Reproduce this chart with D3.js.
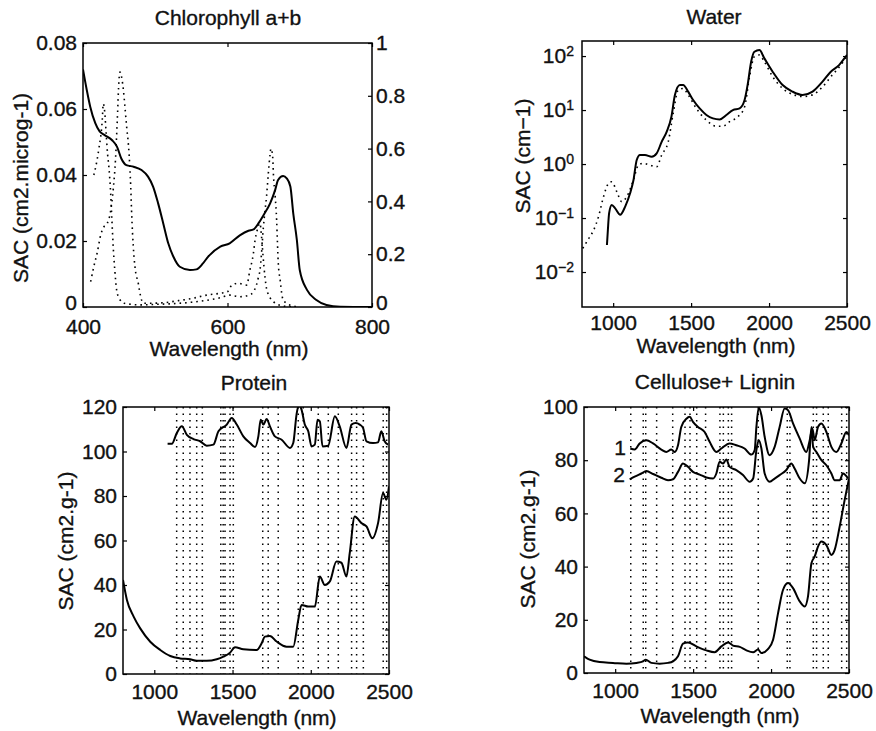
<!DOCTYPE html>
<meta charset="utf-8">
<style>
body { margin: 0; background: #fff; }
svg text { font-family: "Liberation Sans", Arial, sans-serif; fill: #111; stroke: #111; stroke-width: 0.35px; }
.axis text { font-size: 21px; }
.axis path { display: none; }
.axis line { stroke: #000; stroke-width: 1.2px; }
.frame { fill: none; stroke: #000; stroke-width: 1.5px; }
.solid { fill: none; stroke: #000; stroke-width: 2px; stroke-linejoin: round; }
.dots { fill: none; stroke: #000; stroke-width: 1.6px; stroke-dasharray: 1.6 4; }
.vline { stroke: #000; stroke-width: 1.5px; stroke-dasharray: 1.5 5; }
.title, .xlabel, .ylabel { font-size: 21px; text-anchor: middle; }
</style>
<svg width="876" height="731"></svg>

<script src="https://d3js.org/d3.v7.min.js"></script>
<script>

// ---- Chlorophyll a+b (left axis SAC, dotted curves on right axis 0-1)
var chlWl  = [400, 405, 410, 417, 423, 430, 440, 447, 453, 460, 470, 481, 490, 497, 504, 511, 518, 525, 534, 548, 557, 566, 573, 590, 603, 617, 629, 636, 643, 650, 659, 666, 670, 677, 682, 687, 691, 696, 700, 710, 723, 737, 756, 800];
var chlSac = [0.0720, 0.0660, 0.0607, 0.0557, 0.0532, 0.0521, 0.0506, 0.0486, 0.0450, 0.0430, 0.0425, 0.0415, 0.0395, 0.0365, 0.0314, 0.0254, 0.0193, 0.0153, 0.0122, 0.0112, 0.0114, 0.0132, 0.0152, 0.0183, 0.0193, 0.0217, 0.0231, 0.0235, 0.0254, 0.0279, 0.0314, 0.0355, 0.0385, 0.0397, 0.0390, 0.0365, 0.0284, 0.0203, 0.0112, 0.0052, 0.0021, 0.0006, 0.0001, 0];

var chlAWl = [415, 419, 422, 426.7, 428, 430, 432, 434, 436, 438.3, 440, 442, 444, 446.6, 450, 457, 480, 500, 520, 550, 570, 590, 603.5, 617, 630, 636, 640, 643, 645, 647, 649.6, 652, 654, 656.5, 659, 660, 661.5, 662.5, 663.5, 666, 668, 669, 670.3, 673, 675, 677, 686, 700];
var chlA   = [0.50, 0.55, 0.60, 0.71, 0.77, 0.74, 0.66, 0.58, 0.525, 0.43, 0.33, 0.22, 0.14, 0.064, 0.033, 0.014, 0.008, 0.010, 0.012, 0.018, 0.025, 0.035, 0.045, 0.039, 0.045, 0.058, 0.083, 0.115, 0.14, 0.20, 0.30, 0.367, 0.418, 0.506, 0.58, 0.60, 0.59, 0.57, 0.506, 0.418, 0.33, 0.254, 0.165, 0.10, 0.052, 0.027, 0.008, 0];

var chlBWl = [410.6, 415, 420, 424.5, 429, 433.6, 438, 442, 445, 447.5, 449.8, 451.2, 453.5, 456, 458, 460.5, 463, 465, 466, 467.4, 469.6, 472, 476.5, 479, 483.5, 489, 511, 532, 552, 571, 590, 600, 606, 615, 626.5, 631, 635.7, 638, 641, 645, 647, 649, 652, 654, 657, 661, 666, 675, 690];
var chlB   = [0.096, 0.153, 0.21, 0.273, 0.304, 0.317, 0.36, 0.45, 0.56, 0.71, 0.86, 0.89, 0.87, 0.82, 0.76, 0.68, 0.61, 0.52, 0.46, 0.35, 0.23, 0.15, 0.09, 0.05, 0.014, 0.014, 0.016, 0.024, 0.033, 0.045, 0.052, 0.058, 0.083, 0.09, 0.083, 0.14, 0.20, 0.25, 0.29, 0.317, 0.27, 0.20, 0.11, 0.07, 0.045, 0.027, 0.015, 0.005, 0];

// ---- Water (log scale)
var waterWl  = [960, 966, 974, 991, 1013, 1045, 1077, 1109, 1130, 1151, 1172, 1204, 1247, 1279, 1311, 1343, 1374, 1396, 1428, 1449, 1481, 1513, 1555, 1598, 1640, 1683, 1726, 1768, 1811, 1843, 1864, 1885, 1906, 1938, 1970, 2023, 2087, 2151, 2215, 2279, 2343, 2396, 2449, 2491, 2500];
var waterSac = [0.0316, 0.060, 0.123, 0.174, 0.151, 0.115, 0.163, 0.29, 0.50, 1.19, 1.47, 1.47, 1.37, 1.58, 2.57, 3.95, 7.6, 19, 29, 29, 21.9, 15.3, 10.7, 8.1, 7.0, 6.7, 8.1, 10, 10.7, 15.3, 31, 78.5, 120, 129, 90.6, 51.3, 29, 21.9, 19, 21.9, 33.5, 51.3, 68, 97, 105];
var waterDotWl = [805, 843, 875, 906, 938, 970, 991, 1023, 1055, 1087, 1130, 1162, 1194, 1236, 1279, 1311, 1353, 1385, 1417, 1449, 1481, 1534, 1598, 1662, 1704, 1747, 1800, 1843, 1875, 1906, 1938, 1970, 2023, 2087, 2151, 2215, 2279, 2343, 2406, 2460, 2491, 2500];
var waterDot   = [0.0275, 0.0417, 0.060, 0.106, 0.248, 0.438, 0.471, 0.308, 0.20, 0.248, 0.506, 0.955, 1.03, 0.955, 0.89, 1.47, 2.57, 8.7, 23.4, 25.1, 19.1, 10.7, 6.5, 5.0, 5.0, 6.1, 7.5, 11.5, 41.7, 97.7, 104.7, 78.5, 41.7, 25.1, 19.5, 17.8, 19.1, 26.9, 44.7, 67.6, 91.2, 98];

// ---- Protein
var protWl  = [800, 825, 868, 910, 974, 1038, 1102, 1165, 1229, 1272, 1335, 1399, 1442, 1484, 1516, 1569, 1654, 1686, 1707, 1739, 1782, 1845, 1888, 1920, 1941, 1984, 2026, 2058, 2090, 2122, 2164, 2196, 2228, 2249, 2281, 2324, 2356, 2394, 2430, 2462, 2483, 2500];
var protSac = [42.3, 33.3, 25.8, 20.5, 14.5, 10.8, 8.1, 7.0, 6.6, 5.9, 5.9, 6.6, 7.8, 9.6, 12.0, 11.1, 10.8, 13.8, 16.8, 17.1, 14.6, 12.3, 12.3, 24.3, 31.0, 30.3, 30.3, 43.8, 40.0, 41.6, 50.6, 50.0, 43.8, 54.3, 70.8, 67.8, 66.3, 61.0, 67.8, 81.3, 78.3, 84.3];
var protTopWl  = [1085, 1112, 1144, 1176, 1208, 1250, 1293, 1335, 1378, 1410, 1463, 1495, 1527, 1569, 1612, 1644, 1665, 1680, 1697, 1718, 1739, 1771, 1814, 1867, 1888, 1909, 1924, 1941, 1962, 1984, 2005, 2026, 2043, 2058, 2075, 2111, 2154, 2185, 2228, 2260, 2287, 2313, 2334, 2356, 2398, 2430, 2451, 2472, 2494];
var protTop    = [103.5, 103.5, 108.3, 111.3, 107.5, 105.6, 104.6, 102.6, 103.1, 109.1, 112.1, 115.1, 112.1, 106.8, 103.8, 102.0, 106.8, 114.3, 112.1, 114.6, 111.3, 106.8, 105.3, 101.6, 103.8, 116.6, 121, 118.8, 112.1, 109.1, 102.3, 103.1, 114.3, 113.6, 102.3, 102.6, 115.8, 111.3, 101.6, 112.1, 112.8, 112.1, 110.6, 104.6, 103.8, 104.1, 109.1, 104.6, 103.1];
var protBands = [1143, 1185, 1228, 1271, 1307, 1425, 1440, 1452, 1484, 1505, 1693, 1728, 1792, 1920, 1952, 2048, 2112, 2176, 2261, 2293, 2336, 2463, 2485];

// ---- Cellulose + Lignin
var cellWl  = [800, 836, 900, 986, 1072, 1136, 1179, 1196, 1232, 1285, 1339, 1371, 1403, 1435, 1467, 1521, 1585, 1638, 1681, 1724, 1756, 1799, 1842, 1885, 1916, 1938, 1980, 2013, 2045, 2077, 2109, 2141, 2184, 2216, 2237, 2259, 2280, 2301, 2323, 2355, 2387, 2408, 2440, 2472, 2494, 2500];
var cellSac = [6.3, 5.0, 4.1, 3.8, 3.5, 3.8, 4.4, 5.0, 3.8, 3.5, 3.8, 4.4, 6.3, 11.0, 11.5, 10.0, 8.5, 7.8, 10.0, 11.5, 10.3, 9.8, 8.5, 7.8, 8.8, 7.5, 9.0, 12.5, 22.5, 31.3, 33.8, 31.9, 26.9, 25.0, 28.8, 41.3, 43.8, 47.5, 49.4, 48.1, 44.4, 46.3, 55.0, 65.0, 71.3, 73];
var cell1Wl = [1097, 1125, 1157, 1200, 1243, 1296, 1328, 1360, 1382, 1403, 1424, 1457, 1478, 1499, 1531, 1574, 1606, 1649, 1681, 1734, 1777, 1830, 1873, 1895, 1906, 1921, 1938, 1959, 1991, 2023, 2055, 2087, 2109, 2141, 2184, 2226, 2248, 2265, 2280, 2301, 2323, 2355, 2387, 2419, 2451, 2483, 2500];
var cell1   = [84.4, 84.0, 86.3, 87.5, 86.3, 84.0, 83.1, 84.0, 83.1, 85.6, 92.5, 95.6, 96.3, 94.4, 92.5, 90.6, 86.9, 83.1, 84.4, 86.3, 85.6, 84.4, 82.1, 83.8, 92.5, 99.8, 96.9, 88.8, 81.9, 85.0, 92.5, 99.4, 98.8, 93.8, 88.1, 83.1, 87.5, 91.9, 87.5, 92.5, 93.8, 90.6, 85.0, 83.1, 86.3, 90.6, 89.4];
var cell2Wl = [1093, 1125, 1168, 1200, 1243, 1296, 1339, 1371, 1403, 1435, 1467, 1499, 1542, 1585, 1628, 1649, 1670, 1692, 1713, 1734, 1777, 1820, 1863, 1885, 1906, 1921, 1938, 1959, 1991, 2023, 2055, 2098, 2130, 2151, 2184, 2216, 2244, 2259, 2270, 2291, 2323, 2355, 2387, 2408, 2440, 2462, 2494];
var cell2   = [72.8, 73.8, 75.0, 75.9, 74.8, 73.4, 72.5, 72.8, 75.6, 78.8, 77.5, 75.6, 74.6, 73.5, 73.1, 75.0, 79.4, 78.8, 80.3, 77.5, 76.3, 74.4, 71.9, 73.1, 83.8, 87.5, 84.4, 75.0, 71.9, 73.1, 74.4, 76.3, 78.8, 76.9, 73.1, 71.3, 80.0, 92.5, 85.0, 83.1, 80.0, 78.1, 75.0, 72.5, 72.5, 75.0, 73.1];
var cellBands = [1100, 1180, 1196, 1266, 1369, 1448, 1480, 1523, 1580, 1672, 1694, 1726, 1747, 1918, 2104, 2121, 2271, 2292, 2335, 2367, 2453, 2485];

var nirTicks = [1000, 1500, 2000, 2500];

var svg = d3.select("svg");

function makePanel(o) {
  var g = svg.append("g").attr("transform", "translate(" + o.left + "," + o.top + ")");
  g.append("clipPath").attr("id", o.id)
    .append("rect").attr("width", o.w).attr("height", o.h);
  var plot = g.append("g").attr("clip-path", "url(#" + o.id + ")");

  g.append("g").attr("class", "axis")
      .attr("transform", "translate(0," + o.h + ")")
      .call(d3.axisBottom(o.x).tickValues(o.xt).tickSize(-4).tickSizeOuter(0)
        .tickPadding(o.xpad || 10).tickFormat(String));
  g.append("g").attr("class", "axis")
      .call(d3.axisTop(o.x).tickValues(o.xt).tickSize(-4).tickSizeOuter(0).tickFormat(""));
  var left = g.append("g").attr("class", "axis")
      .call(d3.axisLeft(o.y).tickValues(o.yt).tickSize(-4).tickSizeOuter(0).tickPadding(6)
        .tickFormat(o.yfmt || String));
  var right = g.append("g").attr("class", "axis")
      .attr("transform", "translate(" + o.w + ",0)")
      .call(d3.axisRight(o.y2 || o.y).tickValues(o.yt2 || o.yt).tickSize(-4).tickSizeOuter(0).tickPadding(4)
        .tickFormat(o.y2 ? String : ""));

  g.append("rect").attr("class", "frame").attr("width", o.w).attr("height", o.h);

  svg.append("text").attr("class", "title").attr("x", o.tx[0]).attr("y", o.tx[1]).text(o.title);
  svg.append("text").attr("class", "xlabel").attr("x", o.xl[0]).attr("y", o.xl[1]).text("Wavelength (nm)");
  svg.append("text").attr("class", "ylabel")
      .attr("transform", "translate(" + o.yl[0] + "," + o.yl[1] + ") rotate(-90)")
      .text(o.ylabel);
  return {g: g, plot: plot, left: left, right: right};
}

function curve(p, x, y, wl, v, cls) {
  var line = d3.line()
      .x(function(d) { return x(d[0]); })
      .y(function(d) { return y(d[1]); })
      .curve(d3.curveMonotoneX);
  p.plot.append("path").attr("class", cls).attr("d", line(d3.zip(wl, v)));
}

function bands(p, x, h, list) {
  p.plot.selectAll(".vline").data(list).enter().append("line")
      .attr("class", "vline")
      .attr("x1", x).attr("x2", x)
      .attr("y1", 0).attr("y2", h);
}

// panel 1
var x1 = d3.scaleLinear().domain([400, 800]).range([0, 289]);
var y1 = d3.scaleLinear().domain([0, 0.08]).range([264, 0]);
var y1r = d3.scaleLinear().domain([0, 1]).range([264, 0]);
var p1 = makePanel({id: "c1", left: 83, top: 43, w: 289, h: 264, x: x1, y: y1, y2: y1r, xpad: 12,
  xt: [400, 600, 800], yt: [0, 0.02, 0.04, 0.06, 0.08], yt2: [0, 0.2, 0.4, 0.6, 0.8, 1],
  title: "Chlorophyll a+b", tx: [228, 25], xl: [229, 356], yl: [28, 188], ylabel: "SAC (cm2.microg-1)"});
// the two zero labels sit just above the 400 / 800 labels
p1.left.selectAll(".tick text").filter(function(d) { return d === 0; }).attr("dy", "0.12em");
p1.right.selectAll(".tick text").filter(function(d) { return d === 0; }).attr("dy", "0.12em");
curve(p1, x1, y1r, chlAWl, chlA, "dots");
curve(p1, x1, y1r, chlBWl, chlB, "dots");
curve(p1, x1, y1, chlWl, chlSac, "solid");

// panel 2
var x2 = d3.scaleLinear().domain([800, 2500]).range([0, 265]);
var y2 = d3.scaleLog().domain([0.00225, 190]).range([266, 0]);
var p2 = makePanel({id: "c2", left: 582, top: 41, w: 265, h: 266, x: x2, y: y2, xpad: 8,
  xt: nirTicks, yt: [0.01, 0.1, 1, 10, 100], yfmt: function() { return ""; },
  title: "Water", tx: [714, 24], xl: [716, 353], yl: [530, 156], ylabel: "SAC (cm\u22121)"});
var expo = {"0.01": "\u22122", "0.1": "\u22121", "1": "0", "10": "1", "100": "2"};
p2.left.selectAll(".tick text").attr("x", -8).each(function(d) {
  var t = d3.select(this);
  t.text("10");
  t.append("tspan").attr("dy", "-0.55em").style("font-size", "14px").text(expo[String(d)]);
});
curve(p2, x2, y2, waterDotWl, waterDot, "dots");
curve(p2, x2, y2, waterWl, waterSac, "solid");

// panel 3
var x3 = d3.scaleLinear().domain([800, 2500]).range([0, 266]);
var y3 = d3.scaleLinear().domain([0, 120]).range([267, 0]);
var p3 = makePanel({id: "c3", left: 123, top: 407, w: 266, h: 267, x: x3, y: y3,
  xt: nirTicks, yt: [0, 20, 40, 60, 80, 100, 120],
  title: "Protein", tx: [254, 390], xl: [257, 725], yl: [73, 541], ylabel: "SAC (cm2.g-1)"});
bands(p3, x3, 267, protBands);
curve(p3, x3, y3, protTopWl, protTop, "solid");
curve(p3, x3, y3, protWl, protSac, "solid");

// panel 4
var x4 = d3.scaleLinear().domain([800, 2500]).range([0, 265]);
var y4 = d3.scaleLinear().domain([0, 100]).range([266, 0]);
var p4 = makePanel({id: "c4", left: 584, top: 407, w: 265, h: 266, x: x4, y: y4,
  xt: nirTicks, yt: [0, 20, 40, 60, 80, 100],
  title: "Cellulose+ Lignin", tx: [715, 389], xl: [720, 723], yl: [535, 539], ylabel: "SAC (cm2.g-1)"});
bands(p4, x4, 266, cellBands);
curve(p4, x4, y4, cell1Wl, cell1, "solid");
curve(p4, x4, y4, cell2Wl, cell2, "solid");
curve(p4, x4, y4, cellWl, cellSac, "solid");
svg.append("text").attr("class", "title").attr("x", 620).attr("y", 455).text("1");
svg.append("text").attr("class", "title").attr("x", 619).attr("y", 482).text("2");

</script>
